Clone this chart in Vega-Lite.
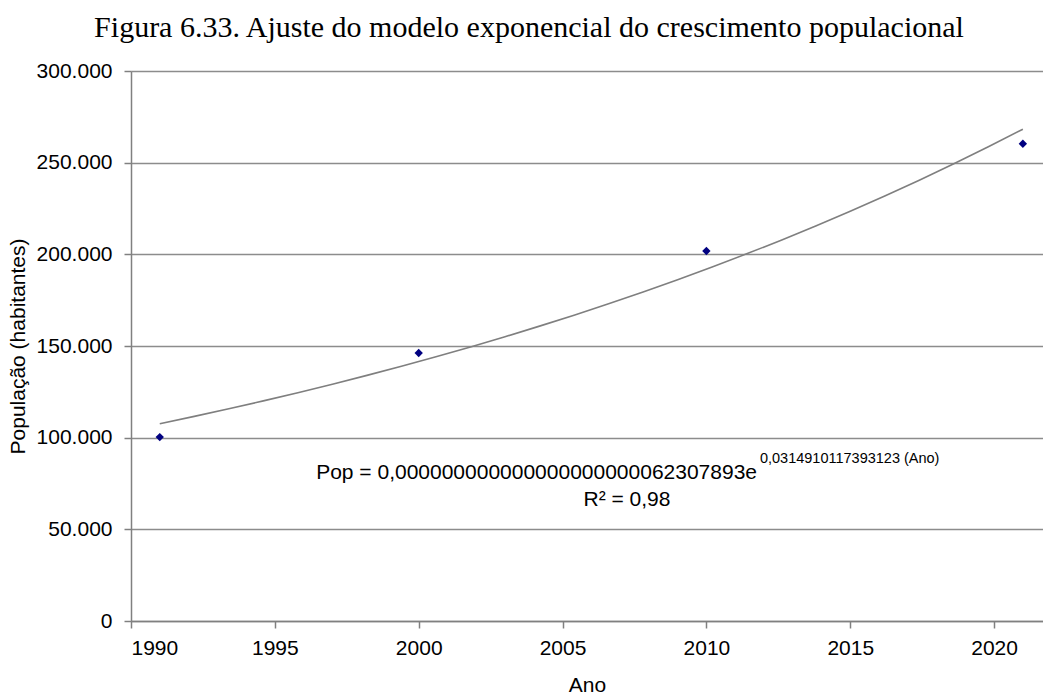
{
  "$schema": "https://vega.github.io/schema/vega-lite/v6.json",
  "autosize": {"type": "none"},
  "padding": {"left": 131, "top": 71, "right": 0, "bottom": 74},
  "width": 912,
  "height": 550,
  "background": "white",
  "title": {
    "text": "Figura 6.33. Ajuste do modelo exponencial do crescimento populacional",
    "font": "Liberation Serif",
    "fontSize": 30,
    "fontWeight": "normal",
    "color": "black",
    "anchor": "middle",
    "frame": "group",
    "dx": -58,
    "offset": 17
  },
  "data": {
    "values": [
      {"Ano": 1991, "Pop": 100300},
      {"Ano": 2000, "Pop": 146200},
      {"Ano": 2010, "Pop": 201800},
      {"Ano": 2021, "Pop": 260300}
    ]
  },
  "encoding": {
    "x": {
      "field": "Ano",
      "type": "quantitative",
      "scale": {"domain": [1990, 2021.7], "nice": false, "zero": false},
      "axis": {
        "title": "Ano",
        "values": [1990, 1995, 2000, 2005, 2010, 2015, 2020],
        "format": "d",
        "grid": false,
        "tickSize": 7,
        "labelPadding": 9,
        "titlePadding": 16
      }
    },
    "y": {
      "field": "Pop",
      "type": "quantitative",
      "scale": {"domain": [0, 300000], "nice": false},
      "axis": {
        "title": "População (habitantes)",
        "values": [0, 50000, 100000, 150000, 200000, 250000, 300000],
        "labelExpr": "replace(format(datum.value, ','), ',', '.')",
        "grid": true,
        "tickSize": 7,
        "labelPadding": 12,
        "titlePadding": 8
      }
    }
  },
  "layer": [
    {
      "transform": [
        {"regression": "Pop", "on": "Ano", "method": "exp", "extent": [1991, 2021]}
      ],
      "mark": {"type": "line", "color": "#7f7f7f", "strokeWidth": 1.6}
    },
    {
      "mark": {"type": "point", "shape": "diamond", "filled": true, "color": "#000080", "size": 70, "opacity": 1}
    },
    {
      "transform": [{"filter": "datum.Ano == 1991"}],
      "mark": {"type": "text", "text": "Pop = 0,000000000000000000000062307893e", "font": "Liberation Sans", "fontSize": 21, "fontWeight": "normal", "align": "right", "baseline": "alphabetic", "color": "black"},
      "encoding": {"x": {"datum": 2011.76}, "y": {"datum": 77455}}
    },
    {
      "transform": [{"filter": "datum.Ano == 1991"}],
      "mark": {"type": "text", "text": "0,0314910117393123  (Ano)", "font": "Liberation Sans", "fontSize": 14.5, "fontWeight": "normal", "align": "left", "baseline": "alphabetic", "color": "black"},
      "encoding": {"x": {"datum": 2011.86}, "y": {"datum": 86182}}
    },
    {
      "transform": [{"filter": "datum.Ano == 1991"}],
      "mark": {"type": "text", "text": "R² = 0,98", "font": "Liberation Sans", "fontSize": 21, "fontWeight": "normal", "align": "center", "baseline": "alphabetic", "color": "black"},
      "encoding": {"x": {"datum": 2007.24}, "y": {"datum": 62727}}
    }
  ],
  "config": {
    "view": {"stroke": null},
    "axis": {
      "labelFont": "Liberation Sans",
      "labelFontSize": 21,
      "labelColor": "black",
      "titleFont": "Liberation Sans",
      "titleFontSize": 21,
      "titleFontWeight": "normal",
      "titleColor": "black",
      "domainColor": "#808080",
      "domainWidth": 1.5,
      "tickColor": "#808080",
      "tickWidth": 1.5,
      "gridColor": "#8c8c8c",
      "gridWidth": 1.6,
      "gridOpacity": 1
    }
  }
}
